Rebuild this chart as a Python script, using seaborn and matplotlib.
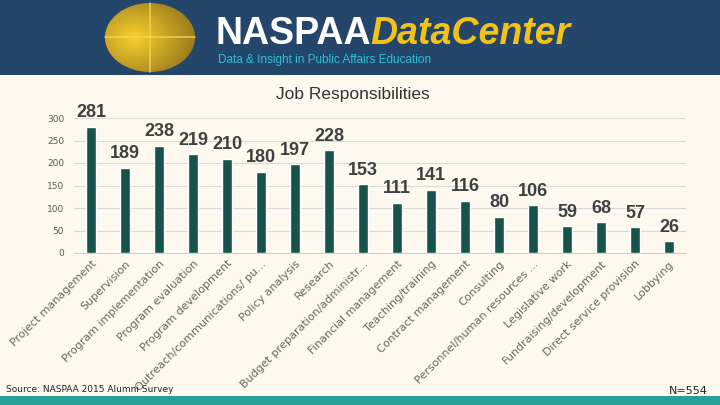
import numpy as np
import pandas as pd
import matplotlib
matplotlib.use('Agg')
import matplotlib.pyplot as plt
import seaborn as sns
from matplotlib.patches import Ellipse, Rectangle

# Data
categories = [
    'Project management', 'Supervision', 'Program implementation',
    'Program evaluation', 'Program development',
    'Outreach/communications/ pu...', 'Policy analysis', 'Research',
    'Budget preparation/administr...', 'Financial management',
    'Teaching/training', 'Contract management', 'Consulting',
    'Personnel/human resources ...', 'Legislative work',
    'Fundraising/development', 'Direct service provision', 'Lobbying',
]
counts = [281, 189, 238, 219, 210, 180, 197, 228, 153,
          111, 141, 116, 80, 106, 59, 68, 57, 26]
y_ticks = [0, 50, 100, 150, 200, 250, 300]

df = pd.DataFrame({'Responsibility': categories, 'Count': counts})

bg = '#fdf9ef'
banner_blue = '#24466b'
bar_color = '#17534b'

sns.set_style('white')
plt.rcParams['font.family'] = ['DejaVu Sans']

fig = plt.figure(figsize=(7.2, 4.05), dpi=100, facecolor=bg)

# Header banner
hdr = fig.add_axes([0, 1 - 75 / 405, 1, 75 / 405])
hdr.set_xlim(0, 720)
hdr.set_ylim(75, 0)
hdr.set_facecolor(banner_blue)
hdr.axis('off')
hdr.add_patch(Rectangle((0, 0), 720, 75, color=banner_blue, zorder=0))

# golden globe with radial shading
gx, gy = np.meshgrid(np.linspace(-1, 1, 200), np.linspace(-1, 1, 200))
r = np.sqrt(((gx + 0.35) / 1.3) ** 2 + (gy / 1.3) ** 2)
shade = np.clip(1 - r, 0, 1)
rgba = np.zeros((200, 200, 4))
rgba[..., 0] = 0.62 + 0.36 * shade
rgba[..., 1] = 0.50 + 0.32 * shade
rgba[..., 2] = 0.12 + 0.05 * shade
rgba[..., 3] = 1.0
im = hdr.imshow(rgba, extent=(105, 195, 72, 3), zorder=2)
globe = Ellipse((150, 37.5), 90, 69, transform=hdr.transData)
im.set_clip_path(globe)
hdr.plot([105, 195], [37, 37], color='#f7d65a', lw=1.2, zorder=3, alpha=0.8)
hdr.plot([150, 150], [3, 72], color='#f7d65a', lw=1.2, zorder=3, alpha=0.8)

hdr.text(215, 34, 'NASPAA', color='white', fontsize=27, fontweight='bold',
         family='Liberation Sans', va='center', ha='left', zorder=4)
hdr.text(370, 34, 'DataCenter', color='#f2c21b', fontsize=27, fontweight='bold',
         style='italic', family='Liberation Sans', va='center', ha='left', zorder=4)
hdr.text(218, 60, 'Data & Insight in Public Affairs Education', color='#2fbfd6',
         fontsize=8.5, family='Liberation Sans', va='center', ha='left', zorder=4)

# Bottom stripe
foot = fig.add_axes([0, 0, 1, 9 / 405])
foot.set_facecolor('#27a096')
foot.set_xticks([])
foot.set_yticks([])
for s in foot.spines.values():
    s.set_visible(False)

# Main chart
ax = fig.add_axes([74 / 720, 1 - 253 / 405, 612 / 720, 135 / 405])
ax.set_facecolor(bg)
sns.barplot(data=df, x='Responsibility', y='Count', color=bar_color,
            width=0.3, saturation=1, ax=ax, zorder=3)

ax.set_ylim(0, 300)
ax.set_yticks(y_ticks)
ax.yaxis.grid(True, color='#d9d9d9', lw=0.8, zorder=0)
ax.set_axisbelow(True)
for side in ['top', 'right', 'left']:
    ax.spines[side].set_visible(False)
ax.spines['bottom'].set_color('#d0d0d0')
ax.tick_params(axis='y', length=0, pad=7, labelsize=6.5, labelcolor='#595959')
ax.tick_params(axis='x', length=0, pad=4)
ax.set_xlabel('')
ax.set_ylabel('')
plt.setp(ax.get_xticklabels(), rotation=45, ha='right', rotation_mode='anchor',
         fontsize=8, color='#666666')

for i, v in enumerate(counts):
    ax.annotate(str(v), xy=(i, v), xytext=(0, 4), textcoords='offset points',
                ha='center', va='bottom', fontsize=13, fontweight='bold',
                family='Liberation Sans', color='#404040', clip_on=False)

fig.text(353 / 720, 1 - 95 / 405, 'Job Responsibilities', ha='center', va='center',
         fontsize=12.5, family='Liberation Sans', color='#333333')
fig.text(6 / 720, 1 - 389 / 405, 'Source: NASPAA 2015 Alumni Survey',
         ha='left', va='center', fontsize=6.5, color='#222222')
fig.text(708 / 720, 1 - 391 / 405, 'N=554', ha='right', va='center',
         fontsize=8, color='#222222')

fig.savefig('out.png', dpi=100, facecolor=bg)
